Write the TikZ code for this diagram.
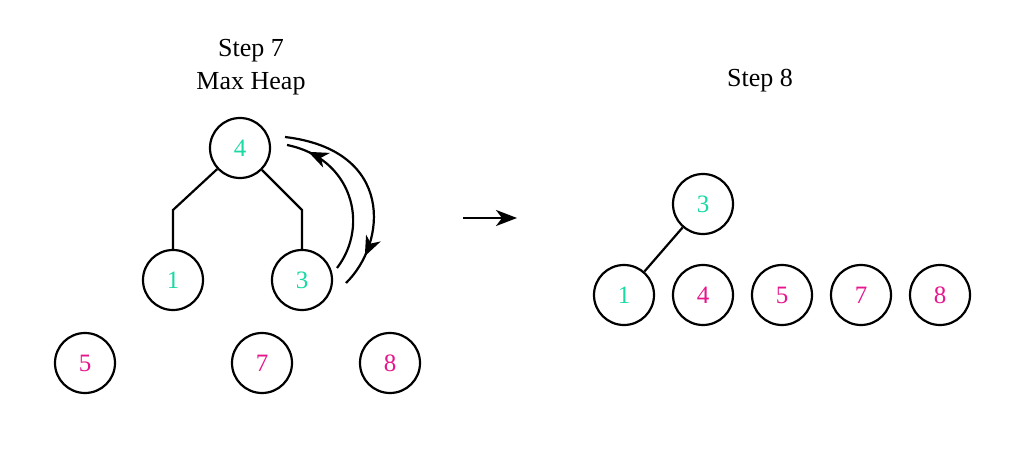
\documentclass[tikz,border=0pt]{standalone}
\usepackage{fontspec}
\setmainfont{Liberation Serif}
\usetikzlibrary{arrows.meta,decorations.markings}
\definecolor{tealc}{HTML}{19D9A5}
\definecolor{magc}{HTML}{E6168C}
\tikzset{
  hnode/.style={circle,draw=black,line width=2.2pt,minimum size=60pt,inner sep=0pt,font=\fontsize{25}{25}\selectfont},
  tnode/.style={hnode,text=tealc},
  mnode/.style={hnode,text=magc},
  edge/.style={line width=2.2pt},
  title/.style={font=\fontsize{26}{26}\selectfont,anchor=base,inner sep=0pt},
  swaparc/.style={line width=2.2pt,postaction={decorate},decoration={markings,mark=at position #1 with {\arrow{Stealth[length=20pt,width=16pt,inset=6pt]}}}}
}
\begin{document}
\begin{tikzpicture}[x=1pt,y=-1pt]
\useasboundingbox (0,0) rectangle (1024,457);
% titles
\node[title] (t7) at (251,57) {Step 7};
\node[title] (mh) at (251,90) {Max Heap};
\node[title] (t8) at (760,87) {Step 8};
% left heap
\node[tnode] (a4) at (240,148) {4};
\node[tnode] (a1) at (173,280) {1};
\node[tnode] (a3) at (302,280) {3};
\node[mnode] (a5) at (85,363) {5};
\node[mnode] (a7) at (262,363) {7};
\node[mnode] (a8) at (390,363) {8};
\coordinate (cl) at (173,210);
\coordinate (cr) at (302,210);
\draw[edge] (a4) -- (cl) -- (a1);
\draw[edge] (a4) -- (cr) -- (a3);
% swap arcs
\coordinate (o1) at (285,137);
\coordinate (o2) at (346,283);
\coordinate (i1) at (337,268);
\coordinate (i2) at (287,145);
\draw[swaparc=0.84] (o1) .. controls (395,150) and (387,243) .. (o2);
\draw[swaparc=0.86] (i1) .. controls (370,225) and (352,158) .. (i2);
% middle arrow
\coordinate (m1) at (463,218);
\coordinate (m2) at (517,218);
\draw[edge,-{Stealth[length=21pt,width=16pt,inset=6pt]}] (m1) -- (m2);
% right
\node[tnode] (b3) at (703,204) {3};
\node[tnode] (b1) at (624,295) {1};
\node[mnode] (b4) at (703,295) {4};
\node[mnode] (b5) at (782,295) {5};
\node[mnode] (b7) at (861,295) {7};
\node[mnode] (b8) at (940,295) {8};
\draw[edge] (b3) -- (b1);
\end{tikzpicture}
\end{document}
